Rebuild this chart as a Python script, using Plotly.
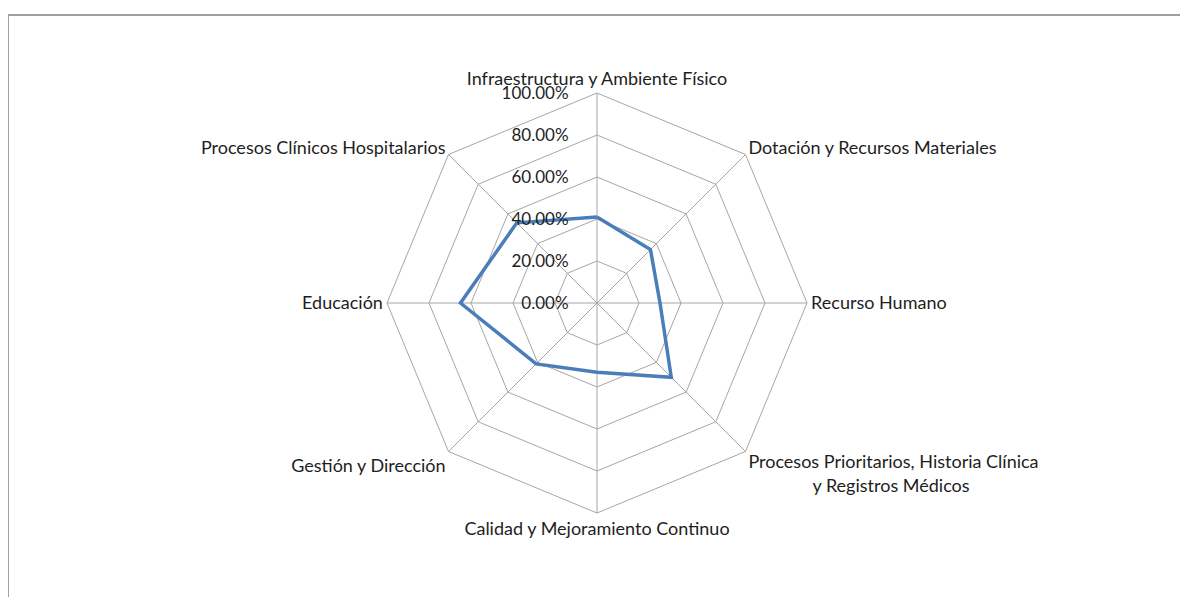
import plotly.graph_objects as go

categories = [
    "Infraestructura y Ambiente Físico",
    "Dotación y Recursos Materiales",
    "Recurso Humano",
    "Procesos Prioritarios, Historia Clínica<br>" + "&nbsp;" * 14 + "y Registros Médicos",
    "Calidad y Mejoramiento Continuo",
    "Gestión y Dirección",
    "Educación",
    "Procesos Clínicos Hospitalarios",
]
values = [0.41, 0.36, 0.30, 0.50, 0.33, 0.41, 0.65, 0.54]
radial_ticks = [0, 0.2, 0.4, 0.6, 0.8, 1.0]

FONT = "Lato, Open Sans, sans-serif"
W, H = 1180, 589  # page body has an 8px margin
CX, CY, R = 589, 295, 210

fig = go.Figure()

fig.add_trace(go.Scatterpolar(
    r=values + values[:1],
    theta=categories + categories[:1],
    mode='lines',
    line=dict(color='#4a7ebb', width=3.5),
    showlegend=False,
    hoverinfo='r+theta'
))

fig.update_layout(
    width=W,
    height=H,
    paper_bgcolor='white',
    margin=dict(l=0, r=0, t=0, b=0),
    font=dict(family=FONT, size=18, color='#1e1e1e'),
    polar=dict(
        domain=dict(x=[(CX - R) / W, (CX + R) / W],
                    y=[1 - (CY + R) / H, 1 - (CY - R) / H]),
        gridshape='linear',
        bgcolor='white',
        angularaxis=dict(
            direction='clockwise',
            rotation=90,
            showline=True,
            linecolor='#a6a6a6',
            gridcolor='#a6a6a6',
            ticks='',
            tickfont=dict(family=FONT, size=18, color='#1e1e1e'),
        ),
        radialaxis=dict(
            range=[0, 1],
            tickvals=radial_ticks,
            tickformat='.2%',
            angle=90,
            tickangle=90,
            side='counterclockwise',
            showline=False,
            gridcolor='#a6a6a6',
            ticks='outside',
            ticklen=22,
            tickcolor='rgba(0,0,0,0)',
            tickfont=dict(family=FONT, size=17, color='#1e1e1e'),
        ),
    ),
    shapes=[
        dict(type='line', xref='paper', yref='paper', x0=0, x1=1,
             y0=1 - 7 / H, y1=1 - 7 / H, line=dict(color='#a0a0a0', width=2)),
        dict(type='line', xref='paper', yref='paper', x0=0, x1=0,
             y0=0, y1=1 - 7 / H, line=dict(color='#a0a0a0', width=2)),
    ],
)

fig.write_html("out.html")
